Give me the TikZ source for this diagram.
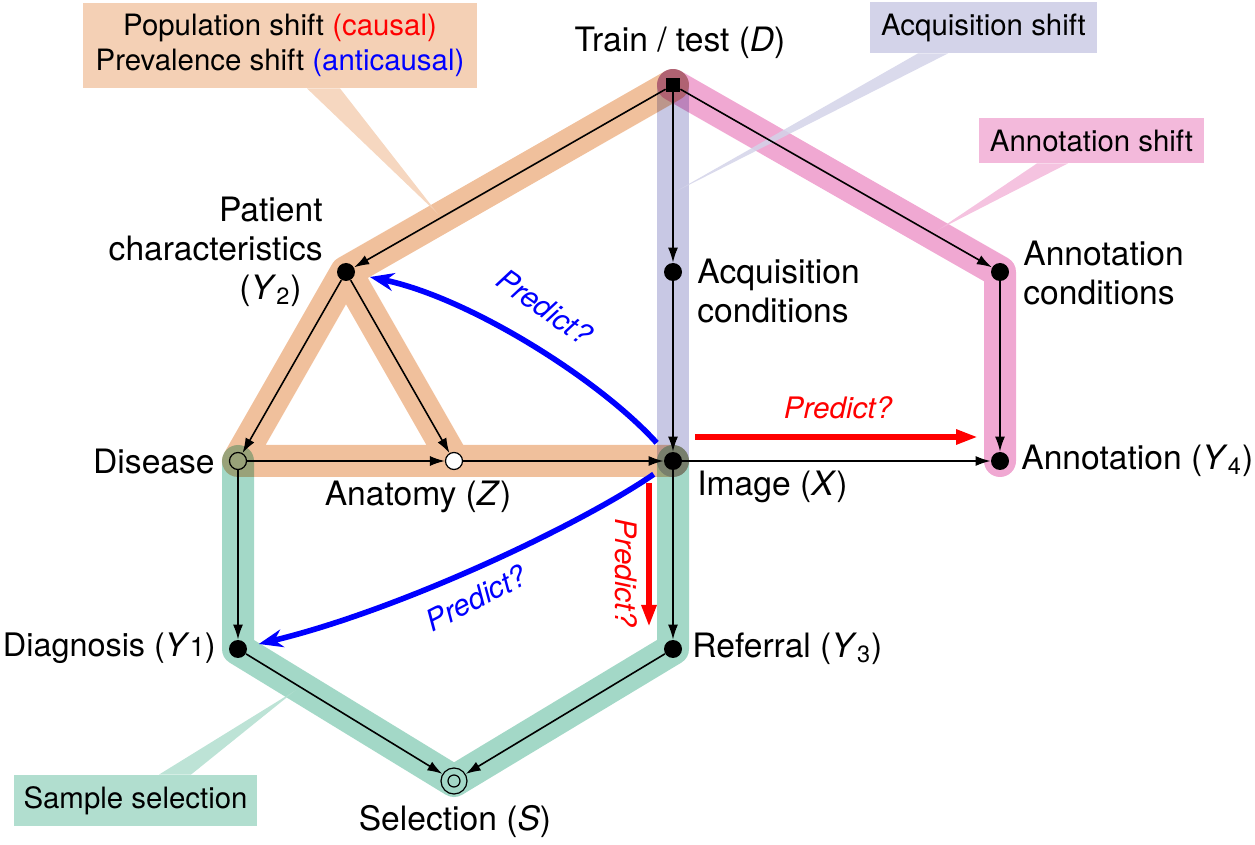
\documentclass[tikz,border=0pt]{standalone}
\usepackage{fontspec}
\setmainfont{TeX Gyre Heros}
\usetikzlibrary{arrows.meta,backgrounds}
\definecolor{popc}{RGB}{240,192,156}
\definecolor{acqc}{RGB}{200,200,228}
\definecolor{annc}{RGB}{240,168,210}
\definecolor{selc}{RGB}{163,216,199}

\begin{document}
\begin{tikzpicture}[x=0.5pt, y=-0.5pt,
font=\fontsize{16.8}{19.5}\selectfont,
dot/.style = {circle, fill, inner sep=0pt, minimum size=9pt},
ring/.style = {circle, draw, line width=0.6pt, inner sep=0pt, minimum size=8.5pt},
sq/.style = {fill, inner sep=0pt, minimum size=7pt},
sel/.style = {circle, draw, line width=0.6pt, inner sep=0pt, minimum size=13pt,
    path picture={\draw[line width=0.6pt] (path picture bounding box.center) circle (3pt);}},
lbl/.style = {inner sep=0pt},
arr/.style = {-{Latex[length=7.5pt,width=5pt]}, line width=0.8pt},
band/.style = {line width=16pt, line cap=round, line join=round, blend mode=multiply},
tag/.style = {inner sep=0pt, font=\fontsize{14.7}{17.5}\selectfont, align=center},
wedge/.style = {opacity=0.85},
pred/.style = {inner sep=0pt, font=\fontsize{14.8}{17}\selectfont\itshape},
bluearr/.style = {draw=blue, line width=2.8pt, -{Stealth[length=12pt,width=9pt]}},
redarr/.style = {draw=red, line width=3pt, -{Triangle[length=11pt,width=7pt]}}]
\useasboundingbox (0,0) rectangle (1255,845);

\node[sq] (D) at (673,85) {};
\node[dot] (Y2) at (346,272) {};
\node[dot] (AC) at (673,272) {};
\node[dot] (AnC) at (1000,272) {};
\node[ring] (Dis) at (238,461) {};
\node[ring, fill=white] (Z) at (454,461) {};
\node[dot] (X) at (673,461) {};
\node[dot] (Y4) at (1000,461) {};
\node[dot] (Y1) at (238,649) {};
\node[dot] (Y3) at (673,649) {};
\node[sel] (S) at (454,781) {};

\node[tag, fill=popc!75!white, minimum width=197pt, minimum height=42.5pt] (popbox) at (280,45.5)
    {Population shift \textcolor{red}{(causal)}\\Prevalence shift \textcolor{blue}{(anticausal)}};
\node[tag, fill=acqc!80!white, minimum width=113.5pt, minimum height=25.5pt] (acqbox) at (983.5,27.5) {Acquisition shift};
\node[tag, fill=annc!80!white, minimum width=112.5pt, minimum height=22.5pt] (annbox) at (1091.5,140.5) {Annotation shift};
\node[tag, fill=selc!85!white, minimum width=121.5pt, minimum height=25.5pt] (selbox) at (135.5,800.5) {Sample selection};
\coordinate (popt) at (438,214);
\coordinate (acqt) at (673,193);
\coordinate (annt) at (938,230);
\coordinate (selt) at (296,690);

\begin{scope}[on background layer]
\draw[band, popc] (D.center) -- (Y2.center) -- (Dis.center) -- (X.center) (Y2.center) -- (Z.center);
\draw[band, acqc] (D.center) -- (X.center);
\draw[band, annc] (D.center) -- (AnC.center) -- (Y4.center);
\draw[band, selc] (Dis.center) -- (Y1.center) -- (S.center) -- (Y3.center) -- (X.center);
\fill[wedge, popc!75!white] ([xshift=13.5pt]popbox.south) -- ([xshift=30pt]popbox.south) -- (popt) -- cycle;
\fill[wedge, acqc!80!white] ([xshift=-32.75pt]acqbox.south) -- ([xshift=-17.75pt]acqbox.south) -- (acqt) -- cycle;
\fill[wedge, annc!80!white] ([xshift=-27.25pt]annbox.south) -- ([xshift=-11.75pt]annbox.south) -- (annt) -- cycle;
\fill[wedge, selc!85!white] ([xshift=11.75pt]selbox.north) -- ([xshift=27.75pt]selbox.north) -- (selt) -- cycle;
\end{scope}

\draw[arr] (D) -- (Y2);
\draw[arr] (D) -- (AC);
\draw[arr] (D) -- (AnC);
\draw[arr] (AC) -- (X);
\draw[arr] (AnC) -- (Y4);
\draw[arr] (Y2) -- (Dis);
\draw[arr] (Y2) -- (Z);
\draw[arr] (Dis) -- (Z);
\draw[arr] (Z) -- (X);
\draw[arr] (X) -- (Y4);
\draw[arr] (Dis) -- (Y1);
\draw[arr] (X) -- (Y3);
\draw[arr] (Y1) -- (S);
\draw[arr] (Y3) -- (S);

\draw[bluearr, shorten <=7.5pt, shorten >=7.5pt] (X) .. controls (600,380) and (470,298) .. (Y2);
\draw[bluearr, shorten <=7pt, shorten >=6pt] (X) .. controls (580,525) and (400,610) .. (Y1);
\draw[redarr] ([xshift=11pt,yshift=12pt]X.center) -- ([xshift=-11pt,yshift=12pt]Y4.center);
\draw[redarr] ([xshift=-12pt,yshift=-11pt]X.center) -- ([xshift=-12pt,yshift=11pt]Y3.center);
\node[pred, text=blue, rotate=-35] (p1) at (545,307) {Predict?};
\node[pred, text=blue, rotate=27] (p2) at (476,598) {Predict?};
\node[pred, text=red] (p3) at (838,408) {Predict?};
\node[pred, text=red, rotate=-90] (p4) at (626,573) {Predict?};

\node[lbl] (Dlab) at (680,43) {Train / test (\textit{D})};
\node[lbl, anchor=east, align=right] (Y2lab) at (323,252)
    {Patient\\characteristics\\(\textit{Y}\textsubscript{2})\hspace*{10.5pt}};
\node[lbl, anchor=west, align=left] (AClab) at (697,291) {Acquisition\\conditions};
\node[lbl, anchor=west, align=left] (AnClab) at (1023,273) {Annotation\\conditions};
\node[lbl, anchor=east] (Dislab) at (215,462) {Disease};
\node[lbl] (Zlab) at (418,497) {Anatomy (\textit{Z})};
\node[lbl, anchor=west] (Xlab) at (697,487) {Image (\textit{X})};
\node[lbl, anchor=west] (Y4lab) at (1021,461) {Annotation (\textit{Y}\textsubscript{4})};
\node[lbl, anchor=east, font=\fontsize{16.2}{19}\selectfont] (Y1lab) at (216,648) {Diagnosis (\textit{Y}{\fontsize{13.5}{14}\selectfont 1})};
\node[lbl, anchor=west] (Y3lab) at (692,649) {Referral (\textit{Y}\textsubscript{3})};
\node[lbl] (Slab) at (455,822) {Selection (\textit{S})};
\end{tikzpicture}
\end{document}
